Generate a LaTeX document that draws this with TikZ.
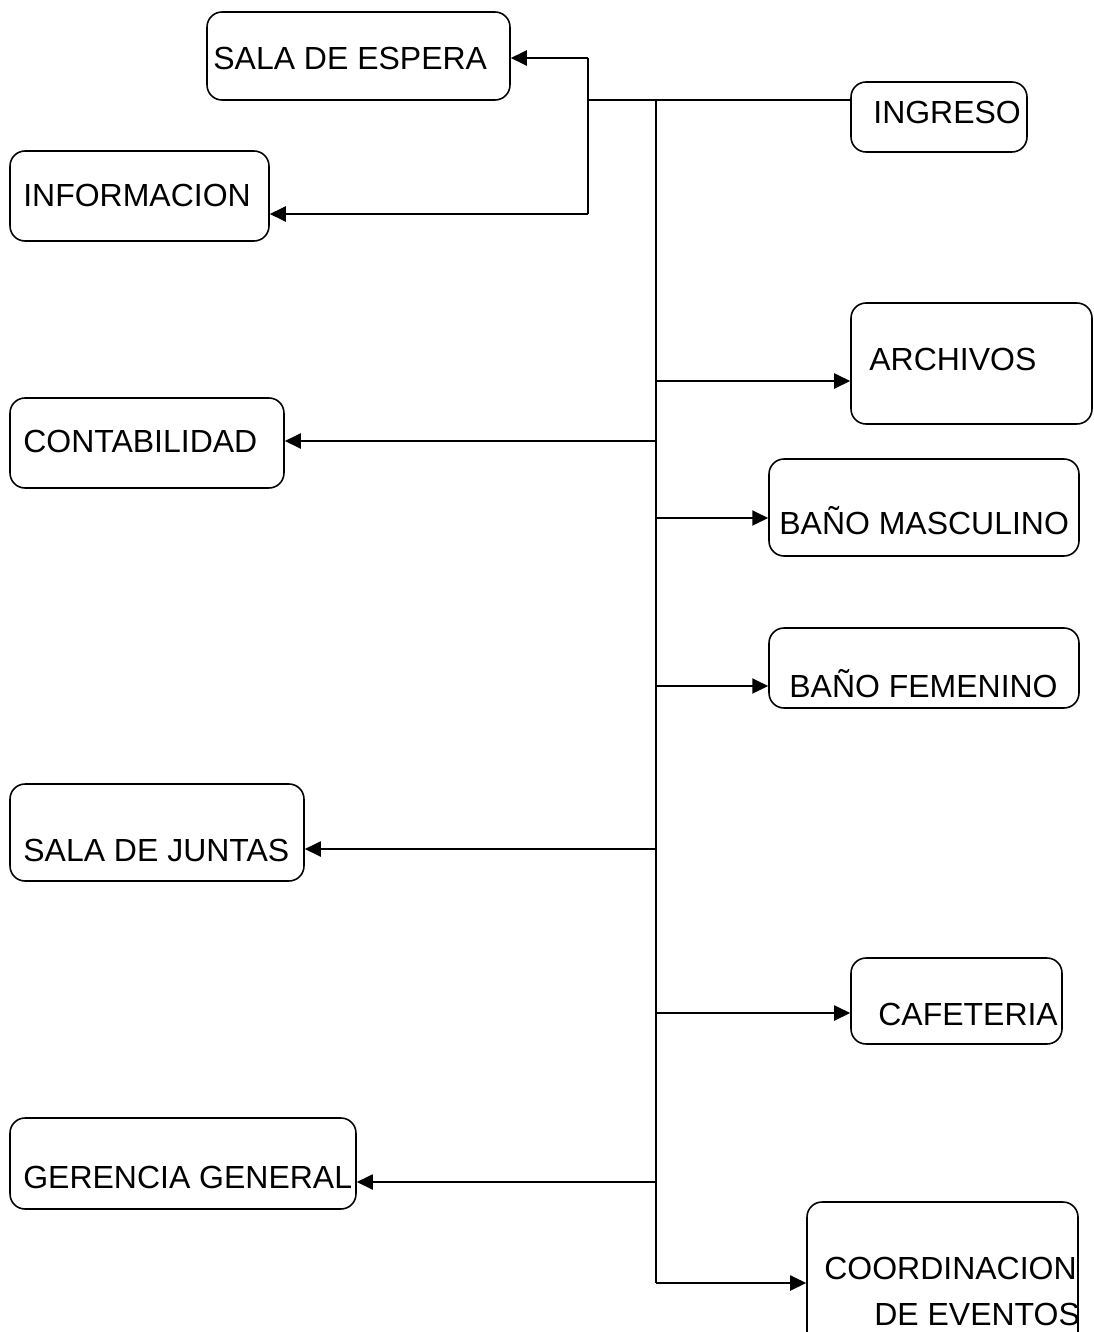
\documentclass[tikz,border=0pt]{standalone}
\usepackage{fontspec}
\setmainfont{Liberation Sans}
\usetikzlibrary{arrows.meta}

\tikzset{
  caja/.style={draw, line width=0.9pt, rounded corners=0.3cm, inner sep=0pt},
  texto/.style={anchor=base west, inner sep=0pt, font=\fontsize{18.2}{20}\selectfont},
  linea/.style={line width=1.1pt},
  flecha/.style={linea, -{Triangle[length=0.32cm, width=0.3cm]}}
}

\begin{document}
\begin{tikzpicture}[x=0.02cm, y=-0.02cm]
  \useasboundingbox (0,0) rectangle (1094,1332);

  % cajas
  \node[caja, minimum width=6.06cm, minimum height=1.76cm] (espera) at (358.5,56) {};
  \node[caja, minimum width=5.18cm, minimum height=1.80cm] (info) at (139.5,196) {};
  \node[caja, minimum width=3.52cm, minimum height=1.40cm] (ingreso) at (939,117) {};
  \node[caja, minimum width=4.82cm, minimum height=2.42cm] (archivos) at (971.5,363.5) {};
  \node[caja, minimum width=5.48cm, minimum height=1.80cm] (contab) at (147,443) {};
  \node[caja, minimum width=6.20cm, minimum height=1.94cm] (masc) at (924,507.5) {};
  \node[caja, minimum width=6.20cm, minimum height=1.60cm] (fem) at (924,668) {};
  \node[caja, minimum width=5.88cm, minimum height=1.94cm] (juntas) at (157,832.5) {};
  \node[caja, minimum width=4.22cm, minimum height=1.72cm] (cafe) at (956.5,1001) {};
  \node[caja, minimum width=6.92cm, minimum height=1.82cm] (gerencia) at (183,1163.5) {};
  \node[caja, minimum width=5.42cm, minimum height=2.96cm] (coord) at (942.5,1276) {};

  % textos
  \node[texto] (t-espera) at (213,69) {SALA DE ESPERA};
  \node[texto] (t-info) at (23,206) {INFORMACION};
  \node[texto] (t-ingreso) at (873,123) {INGRESO};
  \node[texto] (t-archivos) at (869,370) {ARCHIVOS};
  \node[texto] (t-contab) at (23,452) {CONTABILIDAD};
  \node[texto] (t-masc) at (779,534) {BAÑO MASCULINO};
  \node[texto] (t-fem) at (789,697) {BAÑO FEMENINO};
  \node[texto] (t-juntas) at (23,861) {SALA DE JUNTAS};
  \node[texto] (t-cafe) at (878,1025) {CAFETERIA};
  \node[texto] (t-gerencia) at (23,1188) {GERENCIA GENERAL};
  \node[texto] (t-coord) at (824,1279) {COORDINACION};
  \node[texto] (t-eventos) at (874,1325) {DE EVENTOS};

  % recepcion
  \coordinate (bisagra) at (588,100);
  \coordinate (b-espera) at (588,58);
  \coordinate (b-info) at (588,214);
  \draw[linea] (bisagra) -- (bisagra -| ingreso.west);
  \draw[linea] (b-espera) -- (b-info);
  \draw[flecha] (b-espera) -- (b-espera -| espera.east);
  \draw[flecha] (b-info) -- (b-info -| info.east);

  % tronco
  \coordinate (tope) at (656,100);
  \coordinate (pie) at (656,1283);
  \draw[linea] (tope) -- (pie);
  \foreach \y/\dest in {381/archivos, 518/masc, 686/fem, 1013/cafe, 1283/coord} {
    \coordinate (r-\dest) at (656,\y);
    \draw[flecha] (r-\dest) -- (r-\dest -| \dest.west);
  }
  \foreach \y/\dest in {441/contab, 849/juntas, 1182/gerencia} {
    \coordinate (l-\dest) at (656,\y);
    \draw[flecha] (l-\dest) -- (l-\dest -| \dest.east);
  }
\end{tikzpicture}
\end{document}
